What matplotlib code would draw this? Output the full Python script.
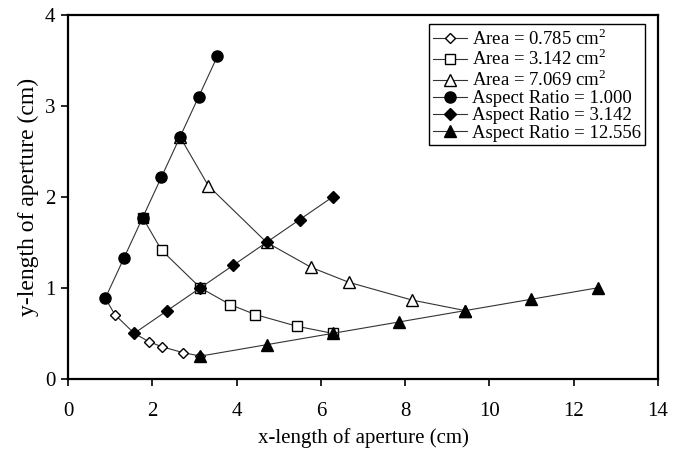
import matplotlib
matplotlib.use('Agg')
from matplotlib import pyplot as plt

plt.rcParams['font.family'] = ['Liberation Serif', 'DejaVu Serif']
plt.rcParams['mathtext.fontset'] = 'custom'
plt.rcParams['mathtext.rm'] = 'Liberation Serif'

# constant-area curves (x, y in cm)
area1_x = [0.886, 1.111, 1.571, 1.924, 2.221, 2.721, 3.142]
area1_y = [0.886, 0.707, 0.500, 0.408, 0.354, 0.289, 0.250]
area2_x = [1.772, 2.221, 3.142, 3.848, 4.443, 5.441, 6.283]
area2_y = [1.772, 1.414, 1.000, 0.816, 0.707, 0.577, 0.500]
area3_x = [2.659, 3.332, 4.712, 5.771, 6.664, 8.162, 9.425]
area3_y = [2.659, 2.121, 1.500, 1.225, 1.061, 0.866, 0.750]

# constant aspect ratio curves
ar1_x = [0.886, 1.329, 1.772, 2.216, 2.659, 3.102, 3.545]
ar1_y = [0.886, 1.329, 1.772, 2.216, 2.659, 3.102, 3.545]
ar2_x = [1.571, 2.356, 3.142, 3.927, 4.712, 5.498, 6.283]
ar2_y = [0.500, 0.750, 1.000, 1.250, 1.500, 1.750, 2.000]
ar3_x = [3.142, 4.712, 6.283, 7.854, 9.425, 10.996, 12.566]
ar3_y = [0.250, 0.375, 0.500, 0.625, 0.750, 0.875, 1.000]

labels = [r'Area = 0.785 cm$^2$', r'Area = 3.142 cm$^2$', r'Area = 7.069 cm$^2$',
          'Aspect Ratio = 1.000', 'Aspect Ratio = 3.142', 'Aspect Ratio = 12.556']

fig = plt.figure(figsize=(6.75, 4.51), dpi=100)
ax = fig.add_axes([0.1007, 0.160, 0.8741, 0.807])

lc = '#333333'
lw = 0.8
ax.plot(area1_x, area1_y, color=lc, lw=lw, marker='D', ms=5.5, mfc='white', mec='black', mew=1.0, label=labels[0])
ax.plot(area2_x, area2_y, color=lc, lw=lw, marker='s', ms=7, mfc='white', mec='black', mew=1.0, label=labels[1])
ax.plot(area3_x, area3_y, color=lc, lw=lw, marker='^', ms=9, mfc='white', mec='black', mew=1.0, label=labels[2])
ax.plot(ar1_x, ar1_y, color=lc, lw=lw, marker='o', ms=8, mfc='black', mec='black', label=labels[3])
ax.plot(ar2_x, ar2_y, color=lc, lw=lw, marker='D', ms=6.5, mfc='black', mec='black', label=labels[4])
ax.plot(ar3_x, ar3_y, color=lc, lw=lw, marker='^', ms=9, mfc='black', mec='black', label=labels[5])

ax.set_xlim(0, 14)
ax.set_ylim(0, 4)
ax.set_xticks(range(0, 15, 2))
ax.set_yticks(range(0, 5))
ax.tick_params(direction='out', length=5, width=1.2, labelsize=15, colors='black')
ax.tick_params(axis='x', pad=12)
ax.tick_params(axis='y', pad=4)
for s in ax.spines.values():
    s.set_linewidth(1.6)

ax.set_xlabel('x-length of aperture (cm)', fontsize=15, labelpad=5)
ax.set_ylabel('y-length of aperture (cm)', fontsize=17, labelpad=4)

leg = ax.legend(loc='upper right', bbox_to_anchor=(0.978, 0.975), borderaxespad=0,
                fontsize=13.5, handlelength=1.8, handletextpad=0.3, labelspacing=0.0,
                borderpad=0.2, fancybox=False, framealpha=1)
leg.get_frame().set_edgecolor('black')
leg.get_frame().set_linewidth(1.0)

fig.savefig('out.png', dpi=100)
